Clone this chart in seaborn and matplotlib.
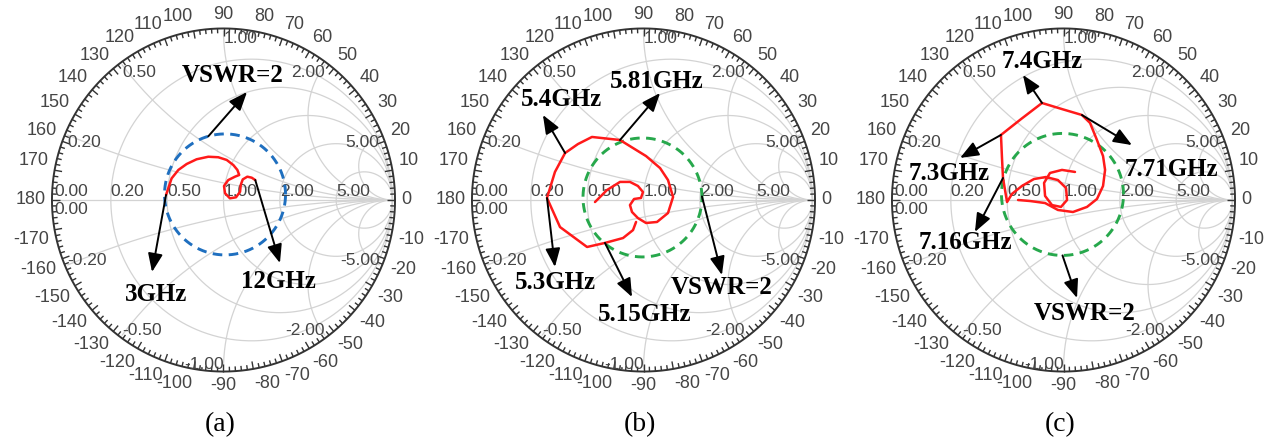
import numpy as np
import matplotlib
matplotlib.use("Agg")
import matplotlib.pyplot as plt
from matplotlib.collections import LineCollection
import seaborn as sns
import pandas as pd

sns.set_theme(style="white")
plt.rcParams["font.family"] = ["Liberation Sans", "DejaVu Sans"]

# ---------------- data (reflection coefficient) ----------------
r_grid = [0.2, 0.5, 1.0, 2.0, 5.0]
x_grid = [0.2, 0.5, 1.0, 2.0, 5.0]
angle_ticks = list(range(-170, 190, 10))

a_re = [-0.340, -0.307, -0.267, -0.218, -0.159, -0.090, -0.031, 0.019, 0.058, 0.082, 0.093,
        0.068, 0.028, 0.003, 0.009, 0.038, 0.074, 0.098, 0.102, 0.114, 0.141, 0.167, 0.188]
a_im = [0.030, 0.128, 0.178, 0.213, 0.241, 0.256, 0.253, 0.237, 0.207, 0.178, 0.148,
        0.138, 0.118, 0.083, 0.040, 0.010, 0.016, 0.049, 0.089, 0.122, 0.138, 0.132, 0.118]

b_re = [-0.044, -0.062, -0.121, -0.228, -0.334, -0.494, -0.571, -0.524, -0.464, -0.388,
        -0.305, -0.139, 0.015, 0.098, 0.145, 0.175, 0.145, 0.080, 0.015, -0.033,
        -0.068, -0.080, -0.056, -0.015, -0.003, -0.033, -0.080, -0.139, -0.216, -0.287]
b_im = [-0.130, -0.178, -0.225, -0.254, -0.278, -0.160, 0.012, 0.166, 0.278, 0.331,
        0.373, 0.355, 0.260, 0.189, 0.118, 0.018, -0.077, -0.130, -0.136, -0.107,
        -0.071, -0.030, 0.006, 0.012, 0.047, 0.083, 0.107, 0.107, 0.059, -0.012]

c_re = [0.068, -0.009, -0.080, -0.115, -0.109, -0.068, -0.015, 0.021, 0.015, -0.033,
        -0.104, -0.175, -0.246, -0.305, -0.334, -0.346, -0.358, -0.364, -0.370, -0.251,
        -0.127, -0.009, 0.109, 0.157, 0.198, 0.234, 0.246, 0.234, 0.198, 0.139,
        0.056, -0.033, -0.109, -0.198, -0.269]
c_im = [0.166, 0.178, 0.160, 0.101, 0.024, -0.030, -0.041, 0.000, 0.071, 0.118,
        0.136, 0.124, 0.083, 0.036, -0.012, 0.059, 0.130, 0.249, 0.385, 0.479,
        0.574, 0.538, 0.503, 0.456, 0.355, 0.260, 0.178, 0.083, 0.006, -0.041,
        -0.071, -0.059, -0.018, -0.006, 0.000]

# VSWR = 2 circles (centre re, centre im, radius)
vswr_a = (0.009, 0.033, 0.358)
vswr_b = (-0.006, 0.015, 0.352)
vswr_c = (-0.006, 0.033, 0.361)

# marker labels: text, index of curve point
a_marks = [("3GHz", 0), ("12GHz", 22)]
b_marks = [("5.15GHz", 3), ("5.3GHz", 6), ("5.4GHz", 8), ("5.81GHz", 11)]
c_marks = [("7.16GHz", 16), ("7.3GHz", 18), ("7.4GHz", 20), ("7.71GHz", 22)]
panel_tags = ["(a)", "(b)", "(c)"]

# ---------------- layout / style ----------------
FIG_W, FIG_H = 1266, 446
R_PX = 169.0
CY = 200.0
centers = [223.5, 643.5, 1063.5]
GRID_C = "#d3d3d3"
TXT_C = "#454545"
RING_C = "#333333"
RING = 1.015
SERIF = ["Liberation Serif", "DejaVu Serif"]

panels = [
    dict(re=a_re, im=a_im, vswr=vswr_a, vcol="#1f6fbf", marks=a_marks,
         heads=[(-0.423, -0.426), (0.334, -0.373)],
         txt=[(-0.399, -0.562), (0.322, -0.485)],
         vs_ang=106, vs_head=(0.139, 0.639), vs_txt=(0.056, 0.734)),
    dict(re=b_re, im=b_im, vswr=vswr_b, vcol="#27a84c", marks=b_marks,
         heads=[(-0.068, -0.574), (-0.524, -0.396), (-0.595, 0.503), (0.098, 0.633)],
         txt=[(0.009, -0.680), (-0.520, -0.488), (-0.485, 0.592), (0.080, 0.703)],
         vs_ang=1, vs_head=(0.464, -0.444), vs_txt=(0.464, -0.515)),
    dict(re=c_re, im=c_im, vswr=vswr_c, vcol="#27a84c", marks=c_marks,
         heads=[(-0.524, -0.189), (-0.612, 0.249), (-0.240, 0.740), (0.405, 0.325)],
         txt=[(-0.583, -0.252), (-0.678, 0.154), (-0.127, 0.822), (0.636, 0.178)],
         vs_ang=-90, vs_head=(0.080, -0.580), vs_txt=(0.127, -0.669)),
]

fig = plt.figure(figsize=(FIG_W / 100, FIG_H / 100), dpi=100)
t = np.logspace(-3, 3.5, 700)

for i, p in enumerate(panels):
    cx = centers[i]
    ax = fig.add_axes([(cx - 210) / FIG_W, 0, 420 / FIG_W, 1])
    ax.set_xlim(-210 / R_PX, 210 / R_PX)
    ax.set_ylim(-(FIG_H - CY) / R_PX, CY / R_PX)
    ax.axis("off")

    # Smith chart grid
    for r in r_grid:
        xs = np.concatenate([-t[::-1], [0.0], t])
        g = (r + 1j * xs - 1) / (r + 1j * xs + 1)
        ax.plot(g.real, g.imag, color=GRID_C, lw=0.9, zorder=1)
    for xv in x_grid:
        for s in (1, -1):
            rs = np.concatenate([[0.0], t])
            g = (rs + 1j * s * xv - 1) / (rs + 1j * s * xv + 1)
            ax.plot(g.real, g.imag, color=GRID_C, lw=0.9, zorder=1)
    ax.plot([-1, 1], [0, 0], color=GRID_C, lw=0.9, zorder=1)

    # outer ring with ticks
    th = np.linspace(0, 2 * np.pi, 721)
    ax.plot(RING * np.cos(th), RING * np.sin(th), color=RING_C, lw=1.4, zorder=3)
    segs = []
    for d in range(0, 360, 2):
        L = 0.045 if d % 10 == 0 else 0.028
        a = np.deg2rad(d)
        segs.append([(RING * np.cos(a), RING * np.sin(a)),
                     ((RING - L) * np.cos(a), (RING - L) * np.sin(a))])
    ax.add_collection(LineCollection(segs, colors=RING_C, linewidths=1.0, zorder=3))

    # angle labels
    RA = 1.05
    for ang in angle_ticks:
        a = np.deg2rad(ang)
        c, s = np.cos(a), np.sin(a)
        ha = "left" if c > 0.1 else ("right" if c < -0.1 else "center")
        va = "bottom" if s > 0.1 else ("top" if s < -0.1 else "center")
        ax.text(RA * c, RA * s, str(ang), ha=ha, va=va, fontsize=13, color=TXT_C, zorder=4)

    # resistance labels
    for r in r_grid:
        ax.text((r - 1) / (r + 1), 0.008, f"{r:.2f}", ha="left", va="bottom",
                fontsize=12.5, color=TXT_C, zorder=4)
    ax.text(-1.0, 0.008, "0.00", ha="left", va="bottom", fontsize=12.5, color=TXT_C, zorder=4)
    ax.text(-1.0, -0.012, "0.00", ha="left", va="top", fontsize=12.5, color=TXT_C, zorder=4)
    # reactance labels
    for xv in x_grid:
        for s in (1, -1):
            g = (1j * s * xv - 1) / (1j * s * xv + 1)
            if s > 0:
                ha = "left" if xv <= 1 else "right"
                va = "top"
            else:
                ha = "left" if xv < 1 else "right"
                va = "baseline"
            lab = f"{s * xv:.2f}"
            ax.text(g.real, g.imag, lab, ha=ha, va=va, fontsize=12.5, color=TXT_C, zorder=4)

    # VSWR circle
    vc_re, vc_im, vr = p["vswr"]
    ax.plot(vc_re + vr * np.cos(th), vc_im + vr * np.sin(th), color=p["vcol"],
            lw=2.1, dashes=(3.3, 2.2), zorder=5)

    # measured S11 trace
    df = pd.DataFrame({"re": p["re"], "im": p["im"]})
    sns.lineplot(data=df, x="re", y="im", sort=False, estimator=None, ax=ax,
                 color="#ff1a1a", lw=1.8, zorder=6)
    ax.set_xlim(-210 / R_PX, 210 / R_PX)
    ax.set_ylim(-(FIG_H - CY) / R_PX, CY / R_PX)

    aprops = dict(arrowstyle="-|>,head_length=0.8,head_width=0.32", mutation_scale=14,
                  lw=1.4, color="black", shrinkA=0, shrinkB=0)
    for (lab, idx), head, tp in zip(p["marks"], p["heads"], p["txt"]):
        ax.annotate("", xy=head, xytext=(p["re"][idx], p["im"][idx]),
                    arrowprops=aprops, zorder=7)
        ax.text(tp[0], tp[1], lab, ha="center", va="center", family=SERIF,
                fontweight="bold", fontsize=18, color="black", zorder=8)
    va_ = np.deg2rad(p["vs_ang"])
    tail = (vc_re + vr * np.cos(va_), vc_im + vr * np.sin(va_))
    ax.annotate("", xy=p["vs_head"], xytext=tail, arrowprops=aprops, zorder=7)
    ax.text(p["vs_txt"][0], p["vs_txt"][1], "VSWR=2", ha="center", va="center",
            family=SERIF, fontweight="bold", fontsize=18, color="black", zorder=8)

    ax.text(-0.02, -1.331, panel_tags[i], ha="center", va="center", family=SERIF,
            fontsize=20, color="black")

fig.savefig("out.png", dpi=100, facecolor="white")
